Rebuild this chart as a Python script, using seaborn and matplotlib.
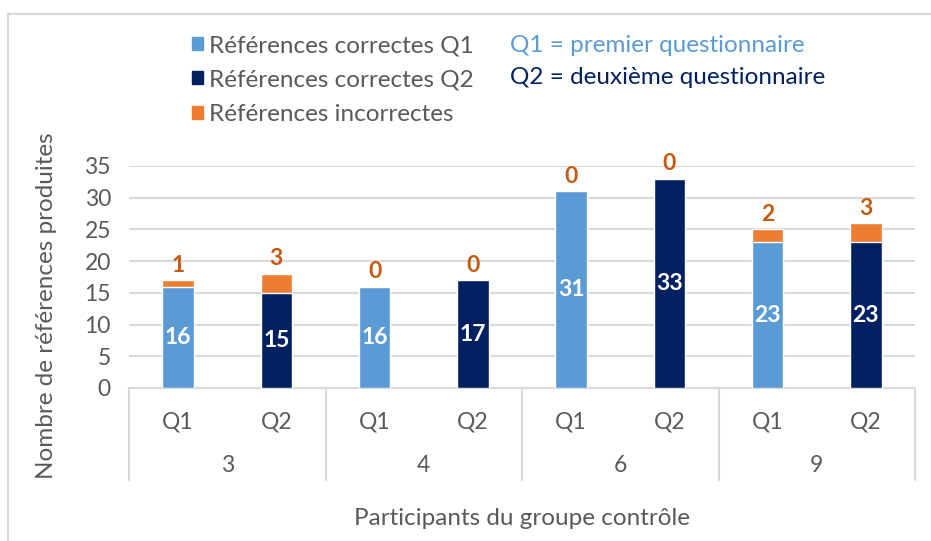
import numpy as np
import pandas as pd
import matplotlib
matplotlib.use('Agg')
import matplotlib.pyplot as plt
import matplotlib.patches as mpatches
import matplotlib.transforms as mtransforms
import seaborn as sns

# data
participants = ['3', '3', '4', '4', '6', '6', '9', '9']
questionnaires = ['Q1', 'Q2', 'Q1', 'Q2', 'Q1', 'Q2', 'Q1', 'Q2']
correctes = [16, 15, 16, 17, 31, 33, 23, 23]
incorrectes = [1, 3, 0, 0, 0, 0, 2, 3]
group_labels = ['3', '4', '6', '9']

LIGHT = '#5B9BD5'
DARK = '#002060'
ORANGE = '#ED7D31'
LABEL_ORANGE = '#C55A11'
GREY_TXT = '#595959'
GRID = '#D9D9D9'

sns.set_theme(style='white')
plt.rcParams['font.family'] = ['Lato', 'DejaVu Sans']

df = pd.DataFrame({
    'bar': [f'{p}-{q}' for p, q in zip(participants, questionnaires)],
    'questionnaire': questionnaires,
    'correctes': correctes,
    'incorrectes': incorrectes,
})
df['total'] = df['correctes'] + df['incorrectes']
order = list(df['bar'])

fig = plt.figure(figsize=(9.31, 5.41), dpi=100)
ax = fig.add_axes([129 / 931, 1 - 388 / 541, 786 / 931, 222 / 541])

# stacked bars: totals in orange, correct on top
sns.barplot(data=df, x='bar', y='total', order=order, color=ORANGE,
            width=0.32, saturation=1, ax=ax, zorder=3)
sns.barplot(data=df, x='bar', y='correctes', order=order, hue='questionnaire',
            palette={'Q1': LIGHT, 'Q2': DARK}, dodge=False, width=0.32,
            saturation=1, legend=False, ax=ax, zorder=3)

ax.set_ylim(0, 35)
ax.set_xlim(-0.5, len(order) - 0.5)
ax.set_yticks(range(0, 36, 5))
ax.yaxis.grid(True, color=GRID, linewidth=1.5, zorder=0)
ax.set_axisbelow(True)
for s in ['top', 'right', 'left']:
    ax.spines[s].set_visible(False)
ax.spines['bottom'].set_color(GRID)
ax.spines['bottom'].set_linewidth(1.5)
ax.tick_params(axis='both', length=0, colors=GREY_TXT, labelsize=16.5)
ax.tick_params(axis='y', pad=13)
ax.tick_params(axis='x', pad=17)
ax.set_xticks(range(len(order)))
ax.set_xticklabels(questionnaires)

# value labels
for i, (c, inc) in enumerate(zip(correctes, incorrectes)):
    ax.text(i, c / 2, str(c), ha='center', va='center', color='white',
            fontsize=16.5, fontweight='bold', zorder=5)
    ax.text(i, c + inc + 0.7, str(inc), ha='center', va='bottom',
            color=LABEL_ORANGE, fontsize=16.5, fontweight='bold', zorder=5)

# multi-level category axis
trans = mtransforms.blended_transform_factory(ax.transData, ax.transAxes)
for x in np.arange(-0.5, len(order), 2):
    ax.plot([x, x], [0, -0.414], transform=trans, color=GRID, lw=1.5,
            clip_on=False)
for g, lab in enumerate(group_labels):
    ax.text(2 * g + 0.5, -0.351, lab, transform=trans, ha='center',
            va='center', color=GREY_TXT, fontsize=16.5)

ax.set_xlabel('Participants du groupe contrôle', color=GREY_TXT, fontsize=17.5)
ax.xaxis.set_label_coords(0.5, -0.54)
ax.set_ylabel('Nombre de références produites', color=GREY_TXT, fontsize=17.5)
ax.yaxis.set_label_coords(-0.091, 0.37)

# legend
handles = [mpatches.Patch(color=LIGHT, label='Références correctes Q1'),
           mpatches.Patch(color=DARK, label='Références correctes Q2'),
           mpatches.Patch(color=ORANGE, label='Références incorrectes')]
leg = fig.legend(handles=handles, loc='upper left',
                 bbox_to_anchor=(192 / 931, 1 - 35 / 541), frameon=False,
                 fontsize=17.5, handlelength=0.45, handleheight=0.45,
                 handletextpad=0.25, labelspacing=0.55, borderpad=0,
                 borderaxespad=0)
for t in leg.get_texts():
    t.set_color(GREY_TXT)
fig.text(510 / 931, 1 - 46 / 541, 'Q1 = premier questionnaire', color=LIGHT,
         fontsize=17.5, va='center')
fig.text(510 / 931, 1 - 77 / 541, 'Q2 = deuxième questionnaire', color=DARK,
         fontsize=17.5, va='center')

# chart frame
fig.patches.append(mpatches.Rectangle((8 / 931, -0.1), 1.2, 1 - 14 / 541 + 0.1,
                                      transform=fig.transFigure, fill=False,
                                      edgecolor=GRID, lw=1.5))

fig.savefig('out.png', dpi=100)
